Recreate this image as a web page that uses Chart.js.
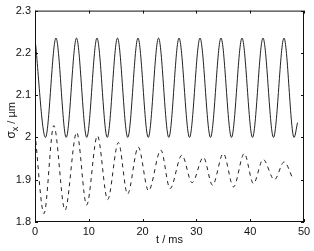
<!DOCTYPE html>
<html>
<head>
<meta charset="utf-8">
<script src="https://cdn.jsdelivr.net/npm/chart.js@4/dist/chart.umd.min.js"></script>
<style>
html,body{margin:0;padding:0;background:#fff;}
canvas{display:block;}
</style>
</head>
<body>
<canvas id="c" width="314" height="251"></canvas>
<script>
// Solid curve: extrema (t in ms, sigma_x in µm)
const solidT = [0, 1.95, 3.9, 5.8, 7.71, 9.62, 11.52, 13.43, 15.33, 17.24, 19.14, 21.05, 22.96, 24.87, 26.77, 28.72, 30.67, 32.62, 34.57, 36.52, 38.48, 40.43, 42.38, 44.33, 46.28, 48.15, 48.8];
const solidV = [2.235, 2.0, 2.235, 2.0, 2.235, 2.0, 2.235, 2.0, 2.235, 2.0, 2.235, 2.0, 2.235, 2.0, 2.235, 2.0, 2.235, 2.0, 2.235, 2.0, 2.235, 2.0, 2.235, 2.0, 2.235, 2.0, 2.035];
// Dashed curve: extrema
const dashedT = [0, 1.67, 3.5, 5.58, 7.75, 9.6, 11.6, 13.5, 15.5, 17.2, 19.2, 21.1, 23.4, 25.1, 27.3, 29.2, 31.3, 33.0, 35.0, 36.9, 38.9, 40.6, 42.4, 44.5, 46.3, 48.0];
const dashedV = [2.01, 1.82, 2.028, 1.828, 2.012, 1.84, 2.004, 1.853, 1.988, 1.866, 1.977, 1.874, 1.97, 1.879, 1.958, 1.893, 1.953, 1.887, 1.962, 1.883, 1.962, 1.891, 1.948, 1.900, 1.942, 1.900];
const xTicks = [0, 10, 20, 30, 40, 50];
const xTickLabels = ['0', '10', '20', '30', '40', '50'];
const yTicks = [1.8, 1.9, 2.0, 2.1, 2.2, 2.3];
const yTickLabels = ['1.8', '1.9', '2', '2.1', '2.2', '2.3'];
const xTitle = 't / ms';
const yTitleMain = 'σ';
const yTitleSub = 'x';
const yTitleRest = ' / µm';

const FONT = '"Liberation Sans", Arial, Helvetica, sans-serif';
const INK = '#111';
const LINE = '#222';

const frame = {
  id: 'frame',
  afterDraw(chart) {
    const {ctx, chartArea: a, scales} = chart;
    ctx.save();
    ctx.strokeStyle = INK;
    ctx.lineWidth = 1;
    ctx.strokeRect(a.left + 0.5, a.top + 0.5, a.right - a.left - 1, a.bottom - a.top - 1);
    const L = 3;
    ctx.beginPath();
    xTicks.forEach(v => {
      const px = Math.round(scales.x.getPixelForValue(v)) + 0.5;
      ctx.moveTo(px, a.bottom); ctx.lineTo(px, a.bottom - L);
      ctx.moveTo(px, a.top); ctx.lineTo(px, a.top + L);
    });
    yTicks.forEach(v => {
      const py = Math.round(scales.y.getPixelForValue(v)) + 0.5;
      ctx.moveTo(a.left, py); ctx.lineTo(a.left + L, py);
      ctx.moveTo(a.right, py); ctx.lineTo(a.right - L, py);
    });
    ctx.stroke();
    // y axis title with subscript
    ctx.fillStyle = INK;
    ctx.translate(15, (a.top + a.bottom) / 2 + 4);
    ctx.rotate(-Math.PI / 2);
    ctx.textBaseline = 'alphabetic';
    ctx.font = '12px ' + FONT;
    const w1 = ctx.measureText(yTitleMain).width;
    ctx.font = '9px ' + FONT;
    const w2 = ctx.measureText(yTitleSub).width;
    ctx.font = '11px ' + FONT;
    const w3 = ctx.measureText(yTitleRest).width;
    let x0 = -(w1 + w2 + w3) / 2;
    ctx.font = '12px ' + FONT;
    ctx.fillText(yTitleMain, x0, 0);
    ctx.font = '9px ' + FONT;
    ctx.fillText(yTitleSub, x0 + w1, 3);
    ctx.font = '11px ' + FONT;
    ctx.fillText(yTitleRest, x0 + w1 + w2, 0);
    ctx.restore();
  }
};

const toPts = (ts, vs) => ts.map((t, i) => ({x: t, y: vs[i]}));

new Chart(document.getElementById('c'), {
  type: 'line',
  data: {
    datasets: [
      {data: toPts(solidT, solidV), borderColor: LINE, borderWidth: 1, pointRadius: 0, cubicInterpolationMode: 'monotone', fill: false},
      {data: toPts(dashedT, dashedV), borderColor: LINE, borderWidth: 1, borderDash: [4, 4], pointRadius: 0, cubicInterpolationMode: 'monotone', fill: false}
    ]
  },
  options: {
    responsive: false,
    animation: false,
    events: [],
    layout: {padding: {top: 10, right: 10, left: 0, bottom: 0}},
    plugins: {legend: {display: false}, tooltip: {enabled: false}},
    scales: {
      x: {
        type: 'linear', min: 0, max: 50,
        afterBuildTicks: s => { s.ticks = xTicks.map(v => ({value: v})); },
        afterFit: s => { s.height = 29; },
        grid: {display: false, drawTicks: false},
        border: {display: false},
        ticks: {padding: 3, color: INK, font: {family: FONT, size: 11}, maxRotation: 0,
          callback: (v, i) => xTickLabels[i]},
        title: {display: true, text: xTitle, color: INK, font: {family: FONT, size: 11}, padding: {top: 0, bottom: 4}}
      },
      y: {
        type: 'linear', min: 1.8, max: 2.3,
        afterBuildTicks: s => { s.ticks = yTicks.map(v => ({value: v})); },
        afterFit: s => { s.width = 35; },
        grid: {display: false, drawTicks: false},
        border: {display: false},
        ticks: {padding: 4, color: INK, font: {family: FONT, size: 11},
          callback: (v, i) => yTickLabels[i]}
      }
    }
  },
  plugins: [frame]
});
</script>
</body>
</html>
